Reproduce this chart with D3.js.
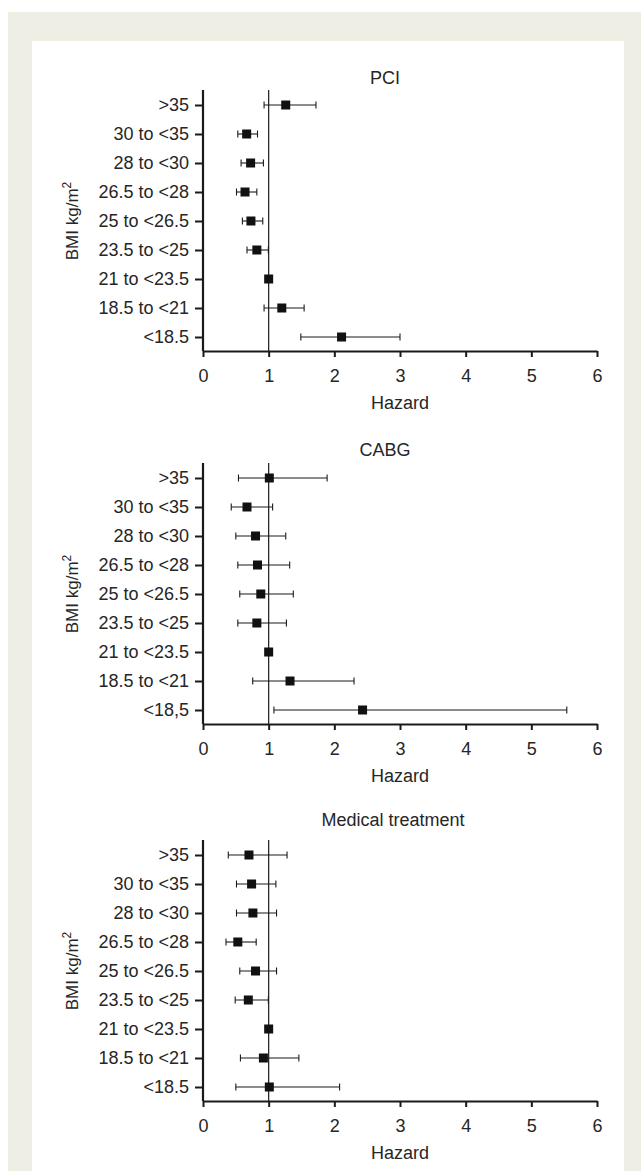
<!DOCTYPE html>
<html><head><meta charset="utf-8">
<script src="https://cdn.jsdelivr.net/npm/d3@7"></script>
<style>
body{margin:0;background:#fff;}
svg{display:block;font-family:"Liberation Sans",Arial,sans-serif;}
</style></head>
<body><svg id="c" width="641" height="1171"></svg>
<script>
const categories = [">35","30 to <35","28 to <30","26.5 to <28","25 to <26.5","23.5 to <25","21 to <23.5","18.5 to <21","<18.5"];
const cabgCategories = [">35","30 to <35","28 to <30","26.5 to <28","25 to <26.5","23.5 to <25","21 to <23.5","18.5 to <21","<18,5"];
const panelTitles = ["PCI","CABG","Medical treatment"];
const xTicks = [0,1,2,3,4,5,6];

const pciHR = [1.26,0.665,0.725,0.64,0.73,0.82,1.0,1.20,2.11];
const pciLo = [0.93,0.53,0.58,0.51,0.60,0.67,null,0.93,1.49];
const pciHi = [1.72,0.83,0.92,0.82,0.91,0.995,null,1.54,3.0];

const cabgHR = [1.01,0.67,0.80,0.83,0.88,0.82,1.0,1.325,2.43];
const cabgLo = [0.54,0.43,0.50,0.53,0.56,0.53,null,0.757,1.08];
const cabgHi = [1.89,1.06,1.26,1.32,1.375,1.27,null,2.30,5.54];

const medHR = [0.70,0.74,0.76,0.53,0.80,0.69,1.0,0.92,1.01];
const medLo = [0.385,0.51,0.51,0.35,0.56,0.49,null,0.57,0.50];
const medHi = [1.28,1.11,1.12,0.81,1.12,0.995,null,1.46,2.08];

const panels = [
  {title: panelTitles[0], cats: categories, hr: pciHR, lo: pciLo, hi: pciHi},
  {title: panelTitles[1], cats: cabgCategories, hr: cabgHR, lo: cabgLo, hi: cabgHi},
  {title: panelTitles[2], cats: categories, hr: medHR, lo: medLo, hi: medHi}
];
const layout = [
  {first:105, titleY:84, titleX:385},
  {first:478, titleY:456, titleX:385},
  {first:855, titleY:826, titleX:393}
];

const svg = d3.select("#c");
svg.append("rect").attr("x",8).attr("y",12).attr("width",633).attr("height",1159).attr("fill","#efeee4");
svg.append("rect").attr("x",32).attr("y",41).attr("width",592).attr("height",1130).attr("fill","#fff");

const x = d3.scaleLinear().domain([0,6]).range([203,597]);
const ink = "#1a1a1a";
const txt = "#262626";
const FS = 18;

panels.forEach((p,i)=>{
  const L = layout[i];
  const yTop = L.first - 15, yBot = L.first + 232 + 14;
  const y = d3.scalePoint().domain(p.cats).range([L.first, L.first+232]);
  const g = svg.append("g");

  g.append("text").attr("x",L.titleX).attr("y",L.titleY).attr("text-anchor","middle")
    .attr("font-size",FS).attr("fill",txt).text(p.title);

  g.append("line").attr("x1",x(1)).attr("x2",x(1)).attr("y1",yTop).attr("y2",yBot)
    .attr("stroke",ink).attr("stroke-width",1.2);

  const ya = g.append("g").attr("transform",`translate(${x(0)},0)`)
    .call(d3.axisLeft(y).tickSize(8).tickPadding(6).tickSizeOuter(0));
  ya.select(".domain").attr("d",`M0,${yTop}V${yBot}`).attr("stroke",ink).attr("stroke-width",2.2);
  ya.selectAll(".tick line").attr("stroke",ink).attr("stroke-width",2);
  ya.selectAll(".tick text").attr("font-size",FS).attr("fill",txt).attr("font-family","Liberation Sans, Arial, sans-serif");

  const xa = g.append("g").attr("transform",`translate(0,${yBot})`)
    .call(d3.axisBottom(x).tickValues(xTicks).tickFormat(d3.format("d")).tickSize(6).tickPadding(12).tickSizeOuter(0));
  xa.select(".domain").attr("stroke",ink).attr("stroke-width",2.2);
  xa.selectAll(".tick line").attr("stroke",ink).attr("stroke-width",2);
  xa.selectAll(".tick text").attr("font-size",FS).attr("fill",txt).attr("font-family","Liberation Sans, Arial, sans-serif");

  g.append("text").attr("x",x(3)).attr("y",yBot+58).attr("text-anchor","middle")
    .attr("font-size",FS).attr("fill",txt).text("Hazard");

  const yl = g.append("text").attr("transform",`translate(78,${L.first+116}) rotate(-90)`)
    .attr("text-anchor","middle").attr("font-size",17).attr("fill",txt);
  yl.append("tspan").text("BMI kg/m");
  yl.append("tspan").attr("dy",-7).attr("font-size",12).text("2");

  const rows = p.cats.map((c,j)=>({c, hr:p.hr[j], lo:p.lo[j], hi:p.hi[j]}));
  const ci = rows.filter(r=>r.lo!=null);
  g.selectAll(".ci").data(ci).join("line")
    .attr("x1",r=>x(r.lo)).attr("x2",r=>x(r.hi)).attr("y1",r=>y(r.c)).attr("y2",r=>y(r.c))
    .attr("stroke",ink).attr("stroke-width",1.1);
  g.selectAll(".capL").data(ci).join("line")
    .attr("x1",r=>x(r.lo)).attr("x2",r=>x(r.lo)).attr("y1",r=>y(r.c)-3.5).attr("y2",r=>y(r.c)+3.5)
    .attr("stroke",ink).attr("stroke-width",1.1);
  g.selectAll(".capR").data(ci).join("line")
    .attr("x1",r=>x(r.hi)).attr("x2",r=>x(r.hi)).attr("y1",r=>y(r.c)-3.5).attr("y2",r=>y(r.c)+3.5)
    .attr("stroke",ink).attr("stroke-width",1.1);
  g.selectAll(".pt").data(rows).join("rect")
    .attr("x",r=>x(r.hr)-4.5).attr("y",r=>y(r.c)-4.5).attr("width",9).attr("height",9)
    .attr("fill","#111");
});
</script></body></html>
